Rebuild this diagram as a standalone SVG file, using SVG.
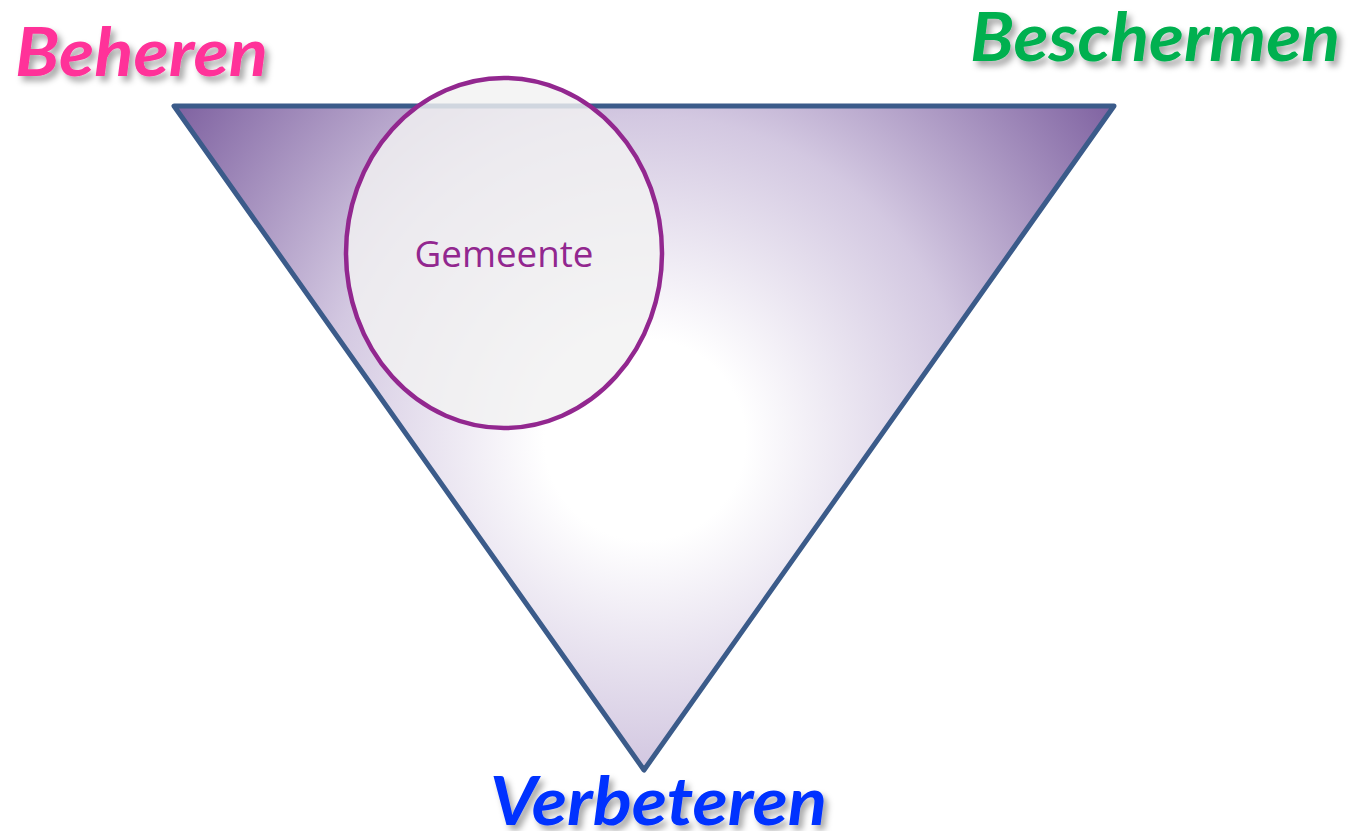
<svg xmlns="http://www.w3.org/2000/svg" width="1350" height="831" viewBox="0 0 1350 831">
  <defs>
    <radialGradient id="triGrad" gradientUnits="userSpaceOnUse" cx="645" cy="440" r="590">
      <stop offset="0" stop-color="#ffffff"/>
      <stop offset="0.17" stop-color="#ffffff"/>
      <stop offset="0.55" stop-color="#d3c8e1"/>
      <stop offset="1" stop-color="#7a5c9d"/>
    </radialGradient>
    <filter id="shadow" x="-10%" y="-20%" width="130%" height="160%">
      <feGaussianBlur in="SourceAlpha" stdDeviation="3"/>
      <feOffset dx="4" dy="5" result="b"/>
      <feFlood flood-color="#000000" flood-opacity="0.35"/>
      <feComposite in2="b" operator="in" result="s"/>
      <feMerge><feMergeNode in="s"/><feMergeNode in="SourceGraphic"/></feMerge>
    </filter>
    <style>
      .label { font-family: "Lato", "Open Sans", "Liberation Sans", sans-serif; font-weight: bold; font-style: italic; font-size: 67px; filter: url(#shadow); }
      .node-text { font-family: "Open Sans", "Noto Sans", "Liberation Sans", sans-serif; font-size: 37px; fill: #92278f; }
    </style>
  </defs>
  <rect width="1350" height="831" fill="#ffffff"/>
  <g id="triangle">
    <polygon points="174,106 1114,106 644,770" fill="url(#triGrad)" stroke="#3b5b8a" stroke-width="5" stroke-linejoin="round"/>
  </g>
  <g id="gemeente">
    <ellipse cx="504" cy="253" rx="158" ry="175" fill="#f2f2f2" fill-opacity="0.82" stroke="#92278f" stroke-width="4.5"/>
    <text class="node-text" x="504" y="267" text-anchor="middle" textLength="179" lengthAdjust="spacingAndGlyphs">Gemeente</text>
  </g>
  <g id="beheren">
    <text class="label" x="15" y="76" fill="#ff3399" textLength="253" lengthAdjust="spacingAndGlyphs">Beheren</text>
  </g>
  <g id="beschermen">
    <text class="label" x="970" y="61" fill="#00b050" textLength="370" lengthAdjust="spacingAndGlyphs">Beschermen</text>
  </g>
  <g id="verbeteren">
    <text class="label" x="490" y="825" fill="#0033ff" textLength="337" lengthAdjust="spacingAndGlyphs">Verbeteren</text>
  </g>
  <g id="connectors"/>
</svg>
